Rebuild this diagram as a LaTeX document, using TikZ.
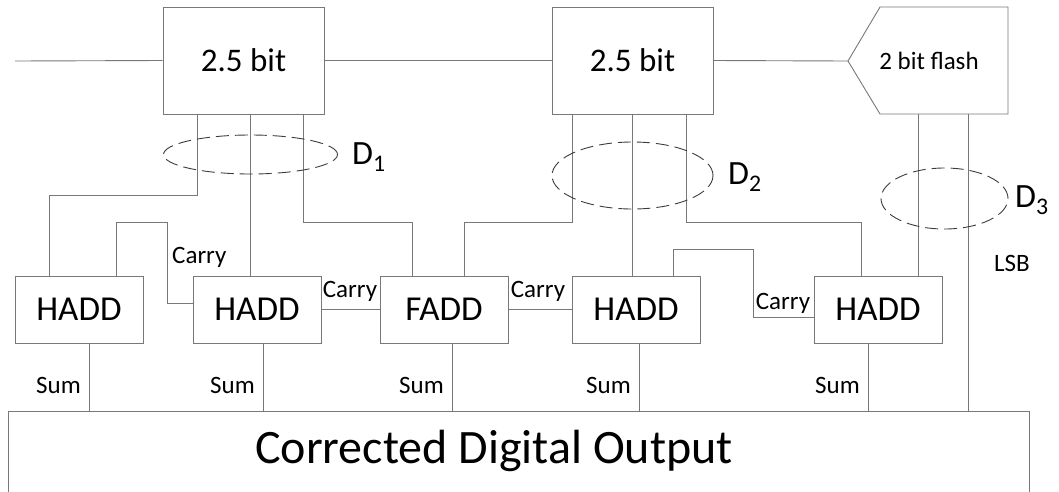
\documentclass[tikz,border=0pt]{standalone}
\usepackage{fontspec}
\setmainfont{Carlito}
\usetikzlibrary{shapes.geometric}
\definecolor{wirec}{RGB}{120,120,120}
\definecolor{grpc}{RGB}{60,60,60}
\begin{document}
\begin{tikzpicture}[x=1pt,y=-1pt,
  wire/.style={draw=wirec,line width=0.9pt},
  box/.style={draw=wirec,line width=0.9pt,inner sep=0pt,align=center},
  stage/.style={box,minimum width=161pt,minimum height=107pt,font=\fontsize{33}{36}\selectfont},
  adder/.style={box,minimum width=128pt,minimum height=67pt,font=\fontsize{35}{38}\selectfont},
  lbl/.style={inner sep=0pt,font=\fontsize{25}{28}\selectfont},
  dlbl/.style={inner sep=0pt,anchor=west,font=\fontsize{34}{38}\selectfont},
  grp/.style={draw=grpc,line width=0.9pt,dash pattern=on 13pt off 6pt}
]
\useasboundingbox (0,0) rectangle (1059,491);
\clip (0,0) rectangle (1059,491);

% pipeline stages
\node[stage] (b1) at (243.5,60.5) {2.5 bit};
\node[stage] (b2) at (632.5,60.5) {2.5 bit};
\coordinate (fltip) at (848,61);
\coordinate (fltl) at (880,7);
\coordinate (fltr) at (1008,7);
\coordinate (flbr) at (1008,114);
\coordinate (flbl) at (880,114);
\draw[wire] (fltip) -- (fltl) -- (fltr) -- (flbr) -- (flbl) -- cycle;
\node[lbl,font=\fontsize{25}{28}\selectfont] (fl) at (929,61) {2 bit flash};

\coordinate (in) at (15,61);
\draw[wire] (in) -- (b1.west);
\draw[wire] (b1.east) -- (b2.west);
\draw[wire] (b2.east) -- (fltip);

% adders
\node[adder] (h1) at (79,309.5) {HADD};
\node[adder] (h2) at (257,309.5) {HADD};
\node[adder] (fa) at (444,309.5) {FADD};
\node[adder] (h4) at (636,309.5) {HADD};
\node[adder] (h5) at (878,309.5) {HADD};

% output
\coordinate (oul) at (8,411);
\coordinate (olr) at (1029,520);
\draw[wire] (oul) rectangle (olr);
\node[inner sep=0pt,font=\fontsize{48}{52}\selectfont] (out) at (494,451) {Corrected Digital Output};

% stage 1 outputs
\coordinate (a1) at (197,195);
\coordinate (a1b) at (49,195);
\draw[wire] (b1.south -| a1) -- (a1) -- (a1b) -- (h1.north -| a1b);
\coordinate (a2) at (250,250);
\draw[wire] (b1.south -| a2) -- (h2.north -| a2);
\coordinate (a3) at (303,222);
\coordinate (a3b) at (412,222);
\draw[wire] (b1.south -| a3) -- (a3) -- (a3b) -- (fa.north -| a3b);

% stage 2 outputs
\coordinate (c1) at (572,222);
\coordinate (c1b) at (464,222);
\draw[wire] (b2.south -| c1) -- (c1) -- (c1b) -- (fa.north -| c1b);
\coordinate (c2) at (632,250);
\draw[wire] (b2.south -| c2) -- (h4.north -| c2);
\coordinate (c3) at (686,222);
\coordinate (c3b) at (861,222);
\draw[wire] (b2.south -| c3) -- (c3) -- (c3b) -- (h5.north -| c3b);

% flash outputs
\coordinate (f1) at (918,200);
\draw[wire] (flbl -| f1) -- (h5.north -| f1);
\coordinate (f2) at (968,411);
\draw[wire] (flbl -| f2) -- (f2);

% carries
\coordinate (k1) at (116,222);
\coordinate (k1b) at (167,222);
\coordinate (k1c) at (167,303);
\draw[wire] (h1.north -| k1) -- (k1) -- (k1b) -- (k1c) -- (h2.west |- k1c);
\draw[wire] (h2.east) -- (fa.west);
\draw[wire] (fa.east) -- (h4.west);
\coordinate (k4) at (673,249);
\coordinate (k4b) at (753,249);
\coordinate (k4c) at (753,317);
\draw[wire] (h4.north -| k4) -- (k4) -- (k4b) -- (k4c) -- (h5.west |- k4c);

\node[lbl,anchor=west] (cl1) at (172,257) {Carry};
\node[lbl] (cl2) at (350,291) {Carry};
\node[lbl] (cl3) at (538,291) {Carry};
\node[lbl] (cl4) at (783,303) {Carry};
\node[lbl] (lsb) at (1012,263) {LSB};

% sums
\foreach \n/\x in {h1/89,h2/263,fa/452,h4/639,h5/868}{
  \coordinate (s\n) at (\x,411);
  \draw[wire] (\n.south -| s\n) -- (s\n);
  \node[lbl,anchor=east] (sl\n) at (\x-8,385) {Sum};
}

% groups
\node[grp,ellipse,minimum width=174pt,minimum height=39pt,inner sep=0pt] (e1) at (250.5,154.5) {};
\node[grp,ellipse,minimum width=161pt,minimum height=67pt,inner sep=0pt] (e2) at (632.5,175.5) {};
\node[grp,ellipse,minimum width=127pt,minimum height=61pt,inner sep=0pt] (e3) at (944.5,198.5) {};
\node[dlbl] (d1) at (352,157) {D\textsubscript{1}};
\node[dlbl] (d2) at (728,177) {D\textsubscript{2}};
\node[dlbl] (d3) at (1015,200) {D\textsubscript{3}};
\end{tikzpicture}
\end{document}
